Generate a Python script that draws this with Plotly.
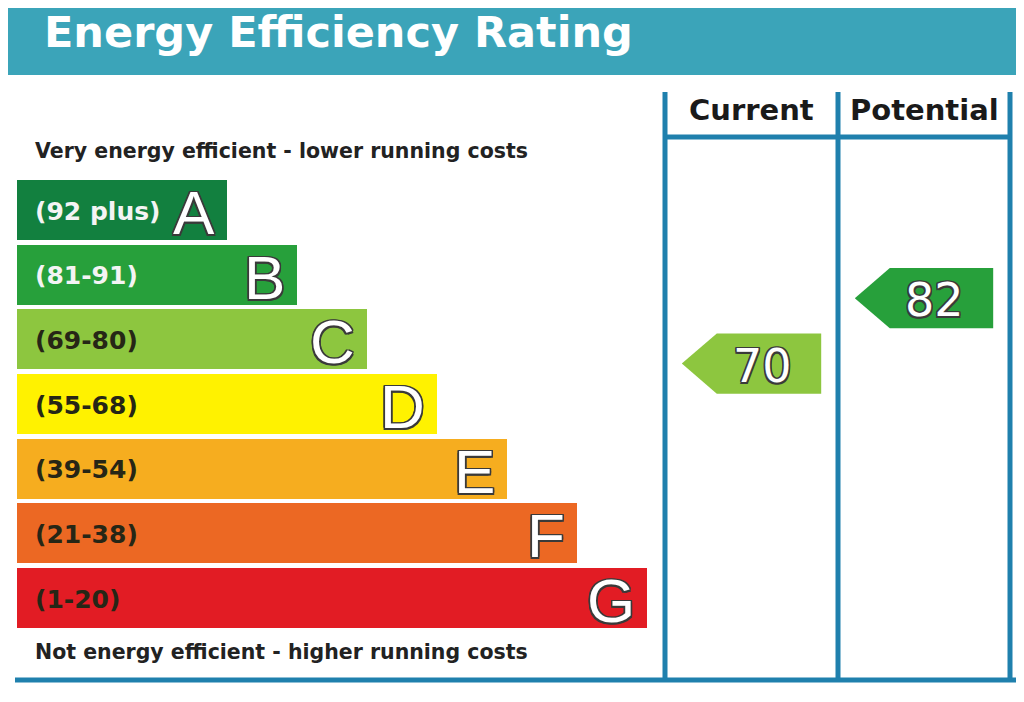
import plotly.graph_objects as go

# rating bands, top (best) to bottom (worst)
bands = ["A", "B", "C", "D", "E", "F", "G"]
band_ranges = ["(92 plus)", "(81-91)", "(69-80)", "(55-68)", "(39-54)", "(21-38)", "(1-20)"]
band_lo = [92, 81, 69, 55, 39, 21, 1]
band_hi = [100, 91, 80, 68, 54, 38, 20]
bar_length = [3, 4, 5, 6, 7, 8, 9]
band_colors = ["#12803f", "#27a03b", "#8dc63f", "#fff200", "#f6ad1f", "#ec6823", "#e21c24"]
range_text_colors = ["#f4f4f4", "#f4f4f4", "#262616", "#262616", "#262616", "#262616", "#262616"]

current_score = 70
potential_score = 82

# the page body adds an 8px margin, so the figure is drawn 8px in from the corner
PAGE_OFF = 8
W, H = 1016, 686
TEAL = "#3ba4b9"
LINE = "#1f80ad"
BOLD = "DejaVu Sans, Verdana, sans-serif"
PLAIN = "Liberation Sans, Arial, sans-serif"
OUTLINE = ("-1.5px -1.5px 0 #3a3a3a, 1.5px -1.5px 0 #3a3a3a, "
           "-1.5px 1.5px 0 #3a3a3a, 1.5px 1.5px 0 #3a3a3a, "
           "0 -1.5px 0 #3a3a3a, 0 1.5px 0 #3a3a3a, -1.5px 0 0 #3a3a3a, 1.5px 0 0 #3a3a3a")


# layout helpers: screen pixel positions of the frame -> data units
def dx(px):
    return (px - 17) / 70


def dy(py):
    return (py - 210) / 64.67


def band_of(score):
    for i, (lo, hi) in enumerate(zip(band_lo, band_hi)):
        if lo <= score <= hi:
            return i
    return len(bands) - 1


def score_row(score):
    i = band_of(score)
    return i - 0.5 + (band_hi[i] - score + 0.5) / (band_hi[i] - band_lo[i] + 1)


rows = list(range(len(bands)))

fig = go.Figure()
fig.add_trace(go.Bar(
    x=bar_length, y=rows, base=0, orientation="h", width=0.93,
    marker=dict(color=band_colors, line=dict(width=0)),
    hoverinfo="skip", showlegend=False,
))

annotations = []
for i, b in enumerate(bands):
    annotations.append(dict(
        x=dx(33), y=i + 0.02, xref="x", yref="y", text=f"<b>{band_ranges[i]}</b>",
        showarrow=False, xanchor="left", yanchor="middle",
        font=dict(family=BOLD, size=25, color=range_text_colors[i]),
    ))
    annotations.append(dict(
        x=bar_length[i] - 0.14, y=i + 0.04, xref="x", yref="y", text=b,
        showarrow=False, xanchor="right", yanchor="middle",
        font=dict(family=PLAIN, size=62, color="white", shadow=OUTLINE),
    ))

shapes = []

# title bar
shapes.append(dict(type="rect", xref="x", yref="y",
                   x0=dx(8), x1=dx(1030), y0=dy(-10), y1=dy(75),
                   fillcolor=TEAL, line=dict(width=0), layer="below"))
annotations.append(dict(
    x=dx(42), y=dy(32), xref="x", yref="y",
    text="<b>Energy Efficiency Rating</b>", showarrow=False,
    xanchor="left", yanchor="middle",
    font=dict(family=BOLD, size=43, color="white"),
))

# column frame
col_x = [dx(665), dx(838), dx(1010)]
for cx in col_x:
    shapes.append(dict(type="line", xref="x", yref="y", x0=cx, x1=cx,
                       y0=dy(92), y1=dy(680), line=dict(color=LINE, width=5)))
shapes.append(dict(type="line", xref="x", yref="y", x0=col_x[0], x1=col_x[2],
                   y0=dy(137), y1=dy(137), line=dict(color=LINE, width=5)))
shapes.append(dict(type="line", xref="x", yref="y", x0=dx(15), x1=dx(1016),
                   y0=dy(680), y1=dy(680), line=dict(color=LINE, width=5)))

for label, left, right in [("Current", col_x[0], col_x[1]), ("Potential", col_x[1], col_x[2])]:
    annotations.append(dict(
        x=(left + right) / 2, y=dy(110), xref="x", yref="y", text=f"<b>{label}</b>",
        showarrow=False, xanchor="center", yanchor="middle",
        font=dict(family=BOLD, size=29, color="#1a1a1a"),
    ))

# score arrows
for score, left, right in [(current_score, col_x[0], col_x[1]),
                           (potential_score, col_x[1], col_x[2])]:
    yc = score_row(score)
    half = 0.465
    tip = left + 0.24
    body = tip + 0.5
    end = right - 0.24
    path = (f"M {tip} {yc} L {body} {yc - half} L {end} {yc - half} "
            f"L {end} {yc + half} L {body} {yc + half} Z")
    shapes.append(dict(type="path", xref="x", yref="y", path=path,
                       fillcolor=band_colors[band_of(score)], line=dict(width=0)))
    annotations.append(dict(
        x=(tip + 0.3 + end) / 2, y=yc + 0.03, xref="x", yref="y", text=str(score),
        showarrow=False, xanchor="center", yanchor="middle",
        font=dict(family="DejaVu Sans, sans-serif", size=46, color="white", shadow=OUTLINE),
    ))

# top/bottom captions
annotations.append(dict(
    x=dx(33), y=dy(151), xref="x", yref="y",
    text="<b>Very energy efficient - lower running costs</b>",
    showarrow=False, xanchor="left", yanchor="middle",
    font=dict(family=BOLD, size=20.5, color="#222222"),
))
annotations.append(dict(
    x=dx(33), y=dy(652), xref="x", yref="y",
    text="<b>Not energy efficient - higher running costs</b>",
    showarrow=False, xanchor="left", yanchor="middle",
    font=dict(family=BOLD, size=20.5, color="#222222"),
))

fig.update_layout(
    width=W, height=H,
    margin=dict(l=0, r=0, t=0, b=0),
    paper_bgcolor="white", plot_bgcolor="white",
    xaxis=dict(range=[dx(PAGE_OFF), dx(PAGE_OFF + W)], visible=False, fixedrange=True),
    yaxis=dict(range=[dy(PAGE_OFF + H), dy(PAGE_OFF)], visible=False, fixedrange=True),
    shapes=shapes, annotations=annotations,
    bargap=0,
)

fig.write_html("out.html")
